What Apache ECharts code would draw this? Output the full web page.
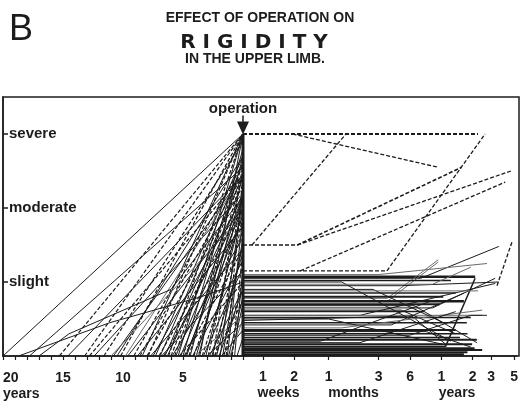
<!DOCTYPE html>
<html><head><meta charset="utf-8">
<script src="https://cdn.jsdelivr.net/npm/echarts@6/dist/echarts.min.js"></script>
<style>html,body{margin:0;padding:0;background:#fff}#c{width:521px;height:402px}</style>
</head><body><div id="c"></div>
<script>
// ---- labels / ticks ----
const levelValues = [1, 2, 3];
const levelNames = ['slight', 'moderate', 'severe'];
const yearTickValues = [5, 10, 15, 20];
const postTickDays = [7, 14, 30, 91, 182, 365, 730, 1095, 1825];
const postTickLabels = ['1', '2', '1', '3', '6', '1', '2', '3', '5'];
const unitDays = [9.9, 52, 516];
const unitNames = ['weeks', 'months', 'years'];
const operationDay = 4.5;     // day at which the post-operative axis starts
const lastDay = 1940;
const operationLevel = 3;

// ---- before operation: years before operation at onset, level at operation, style ----
const preYears  = [20,17.8,15.3,14.6,13.2,12.4,11.6,10.8,10.2,9.6,9.1,8.8,8.4,8.0,7.7,7.3,7.0,6.8,6.5,6.2,5.9,5.6,5.3,5.0,4.8,4.5,4.2,3.9,3.6,3.4,3.1,2.8,2.5,2.2,1.9,1.6,1.3,1.0,0.7,4.0,3.0,2.4,1.8,1.1,0.5,9.8,11.0,6.0,5.4,4.7,
                   8.6,7.9,7.5,6.9,6.6,6.3,5.7,5.2,4.9,4.4,4.1,3.7,3.3,2.9,2.6,2.3,2.0,1.7,1.4,1.2,0.9,12.8,10.5];
const preLevels = [3.0,2.55,3.0,2.45,3.0,2.2,2.9,2.45,3.0,2.0,2.6,1.75,3.0,2.3,1.45,2.7,2.0,1.15,2.45,3.0,1.6,2.15,1.0,2.8,1.9,2.45,1.3,2.15,3.0,1.7,2.0,0.9,2.6,1.5,2.2,1.05,1.9,0.7,1.2,0.55,0.45,0.75,0.35,0.5,0.25,2.45,1.9,2.45,3.0,2.15,
                   2.45,3.0,2.15,2.6,1.8,2.2,2.6,2.0,1.45,2.7,1.9,2.45,1.2,2.15,1.4,1.9,0.9,1.6,2.45,0.8,1.45,2.45,2.7];
const preStyles = ['s','s','d','s','d','s','d','s','d','s','d','s','s','d','s','s','d','s','s','d','s','s','d','s','s','d','s','s','s','d','s','s','d','s','s','d','s','s','s','g','s','d','s','g','s','g','g','d','s','s',
                   'd','d','s','s','d','s','d','s','d','s','d','s','s','d','s','d','s','s','d','s','d','d','s'];
// bent pre-operative courses [yearsBefore, level]
const preBentPaths = [
  [[18.7,0],[11.1,0.45],[3.5,0.8],[0,1.0]],
  [[17.0,0],[14.5,0.3],[6.0,0.9],[0,2.15]]
];

// ---- after operation: [days after operation, level] ----
const postPaths = [
  [[4.5,3],[820,3]],
  [[13.5,3],[340,2.55]],
  [[4.5,1.5],[15,1.5],[570,2.55]],
  [[15,1.5],[1700,2.5]],
  [[5.5,1.5],[44,3]],
  [[16,1.15],[1500,2.35]],
  [[4.5,1.15],[109,1.15],[960,3]],
  [[1250,0.95],[1750,1.55]],
  [[4.5,1.07],[770,1.07]],
  [[4.5,0.13],[400,0.13],[770,1.05]],
  [[4.5,1.05],[230,1.05],[1300,1.48]],
  [[4.5,0.78],[110,0.78],[340,1.3]],
  [[4.5,0.74],[110,0.74],[340,1.27]],
  [[4.5,0.8],[380,0.8]],
  [[4.5,0.74],[600,0.74]],
  [[4.5,0.55],[60,0.55],[1200,0.98]],
  [[4.5,0.6],[250,0.6]],
  [[4.5,0.55],[900,0.55]],
  [[4.5,0.5],[30,0.5],[400,0.15]],
  [[4.5,0.2],[25,0.2],[300,0.75]],
  [[4.5,0.35],[500,0.35]],
  [[4.5,0.3],[650,0.3]],
  [[4.5,0.25],[550,0.25]],
  [[4.5,0.16],[720,0.16]],
  [[4.5,0.1],[760,0.1]],
  [[4.5,0.05],[650,0.05]],
  [[4.5,0.42],[120,0.42],[600,0.85]],
  [[4.5,0.9],[80,0.9],[380,0.45]],
  [[4.5,0.68],[200,0.68],[800,0.18]],
  [[4.5,1.0],[40,1.0],[450,0.2]],
  [[4.5,0.45],[640,0.45]],
  [[4.5,0.65],[300,0.65],[1200,1.05]],
  [[4.5,0.48],[190,0.54],[400,0.16]],
  [[4.5,0.88],[820,0.88]],
  [[4.5,0.95],[150,0.95],[1300,1.0]],
  [[4.5,0.28],[180,0.28],[700,0.55],[1000,0.55]],
  [[4.5,1.02],[450,1.02]],
  [[4.5,0.97],[300,0.97],[700,1.2]],
  [[4.5,0.85],[500,0.85]],
  [[4.5,0.7],[350,0.7]],
  [[4.5,0.62],[150,0.62],[500,0.3]],
  [[4.5,0.52],[700,0.52]],
  [[4.5,0.38],[40,0.38],[900,0.62]],
  [[4.5,0.22],[800,0.22]],
  [[4.5,0.08],[900,0.08]],
  [[4.5,0.02],[600,0.02]],
  [[4.5,0.33],[260,0.33],[700,0.12]],
  [[4.5,0.18],[60,0.18],[500,0.6]],
  [[4.5,1.1],[90,1.1],[1000,1.25]]
];
const postStyles = ['d','d','d','d','d','d','d','d','s','s','s','g','g','s','s','s','s','g','s','s','s','s','s','s','s','s','s','s','s','s','s','s','s','g','s','s',
                    's','g','s','s','s','s','g','s','s','s','s','s','g'];
const postWidths = [2,1.3,1.6,1.3,1.3,1.3,1.3,1.3,2.5,1.5,1,1,1,2,2.5,1,1.5,1,1,1,2,1.5,1.5,2,2.5,2,1,1,1,1,1.5,1,1,1,1,1,
                    1.5,1,1.5,2,1,1.5,1,2,2,2.5,1,1,1];

const INK = '#1c1c1c';
const FONT = '"Liberation Sans", Arial, sans-serif';
const lg = d => Math.log10(d);
const near = (a, b) => Math.abs(a - b) < 1e-6;

const series = [];
function styleOf(s, w) {
  if (s === 'd') return { color: INK, width: w || 1.2, type: [4, 2] };
  if (s === 'g') return { color: '#6a6a6a', width: w || 1, type: 'solid' };
  return { color: INK, width: w || 1, type: 'solid' };
}
preYears.forEach((y, i) => {
  series.push({ type: 'line', xAxisIndex: 0, yAxisIndex: 0, symbol: 'none', silent: true,
    data: [[y, 0], [0, preLevels[i]]], lineStyle: styleOf(preStyles[i] || 's', preStyles[i] === 'd' ? 1.2 : 1) });
});
preBentPaths.forEach(p => series.push({ type: 'line', xAxisIndex: 0, yAxisIndex: 0, symbol: 'none', silent: true,
  data: p, lineStyle: styleOf('s', 1) }));
postPaths.forEach((p, i) => series.push({ type: 'line', xAxisIndex: 1, yAxisIndex: 1, symbol: 'none', silent: true,
  data: p.map(([d, v]) => [lg(d), v]), lineStyle: styleOf(postStyles[i], postWidths[i]) }));

// operation line + arrow
series.push({ type: 'line', xAxisIndex: 0, yAxisIndex: 0, symbol: 'none', silent: true, z: 5,
  data: [[0, 0], [0, operationLevel]], lineStyle: { color: INK, width: 3 },
  markLine: { silent: true, symbol: ['none', 'triangle'], symbolSize: [12, 13],
    data: [[{ coord: [0, 3.25] }, { coord: [0, 3.08] }]],
    lineStyle: { color: INK, width: 1.5, type: 'solid' },
    label: { show: true, position: 'start', distance: -1, formatter: 'operation',
      color: INK, fontFamily: FONT, fontWeight: 'bold', fontSize: 15 } } });

const axLabel = { color: INK, fontFamily: FONT, fontWeight: 'bold', fontSize: 14 };

const option = {
  animation: false,
  backgroundColor: '#fff',
  grid: [
    { left: 3, width: 240, top: 97, bottom: 46 },
    { left: 243, right: 2, top: 97, bottom: 46 },
    { left: 3, right: 2, top: 97, bottom: 46, show: true, borderColor: INK, borderWidth: 1.5, backgroundColor: 'transparent' }
  ],
  xAxis: [
    { gridIndex: 0, type: 'value', inverse: true, min: 0, max: 20, interval: 1,
      axisLine: { show: true, onZero: false, lineStyle: { color: INK, width: 1.5 } },
      axisTick: { show: true, length: 4, lineStyle: { color: INK, width: 1.2 } },
      axisLabel: Object.assign({ customValues: yearTickValues, margin: 14, lineHeight: 16, alignMaxLabel: 'left',
        formatter: v => v === 20 ? '20\nyears' : String(v) }, axLabel),
      splitLine: { show: false } },
    { gridIndex: 1, type: 'value', min: lg(operationDay), max: lg(lastDay),
      axisLine: { show: true, onZero: false, lineStyle: { color: INK, width: 1.5 } },
      axisTick: { show: true, length: 4, customValues: postTickDays.map(lg), lineStyle: { color: INK, width: 1.2 } },
      axisLabel: Object.assign({ customValues: postTickDays.map(lg), margin: 14,
        formatter: v => { const i = postTickDays.findIndex(d => near(lg(d), v)); return i >= 0 ? postTickLabels[i] : ''; } }, axLabel),
      splitLine: { show: false } },
    { gridIndex: 1, type: 'value', position: 'bottom', min: lg(operationDay), max: lg(lastDay),
      axisLine: { show: false, onZero: false }, axisTick: { show: false }, splitLine: { show: false },
      axisLabel: Object.assign({ customValues: unitDays.map(lg), margin: 30,
        formatter: v => { const i = unitDays.findIndex(d => near(lg(d), v)); return i >= 0 ? unitNames[i] : ''; } }, axLabel) },
    { gridIndex: 2, type: 'value', show: false, min: 0, max: 1 }
  ],
  yAxis: [
    { gridIndex: 0, type: 'value', position: 'left', min: 0, max: 3.5,
      axisLine: { show: true, onZero: false, lineStyle: { color: INK, width: 1.5 } },
      axisTick: { show: true, inside: true, length: 5, customValues: levelValues, lineStyle: { color: INK, width: 1.5 } },
      axisLabel: { inside: true, margin: 6, customValues: levelValues, color: INK, fontFamily: FONT, fontWeight: 'bold', fontSize: 15,
        formatter: v => { const i = levelValues.indexOf(v); return i >= 0 ? levelNames[i] : ''; } },
      splitLine: { show: false } },
    { gridIndex: 1, type: 'value', min: 0, max: 3.5, show: false },
    { gridIndex: 2, type: 'value', min: 0, max: 1, show: false }
  ],
  graphic: [
    { type: 'text', x: 9, y: 30, style: { text: 'B', fill: INK, fontFamily: FONT, fontSize: 36, verticalAlign: 'middle', align: 'left' } },
    { type: 'text', x: 260, y: 18, style: { text: 'EFFECT OF OPERATION ON', fill: INK, fontFamily: FONT, fontWeight: 'bold', fontSize: 14, align: 'center', verticalAlign: 'middle' } },
    { type: 'text', x: 254, y: 43, style: { text: 'R I G I D I T Y', fill: INK, fontFamily: '"DejaVu Sans", sans-serif', fontWeight: 'bold', fontSize: 20, align: 'center', verticalAlign: 'middle' } },
    { type: 'text', x: 255, y: 59, style: { text: 'IN THE UPPER LIMB.', fill: INK, fontFamily: FONT, fontWeight: 'bold', fontSize: 14, align: 'center', verticalAlign: 'middle' } }
  ],
  series: series
};
const chart = echarts.init(document.getElementById('c'), null, { renderer: 'canvas' });
chart.setOption(option);
</script>
</body></html>
